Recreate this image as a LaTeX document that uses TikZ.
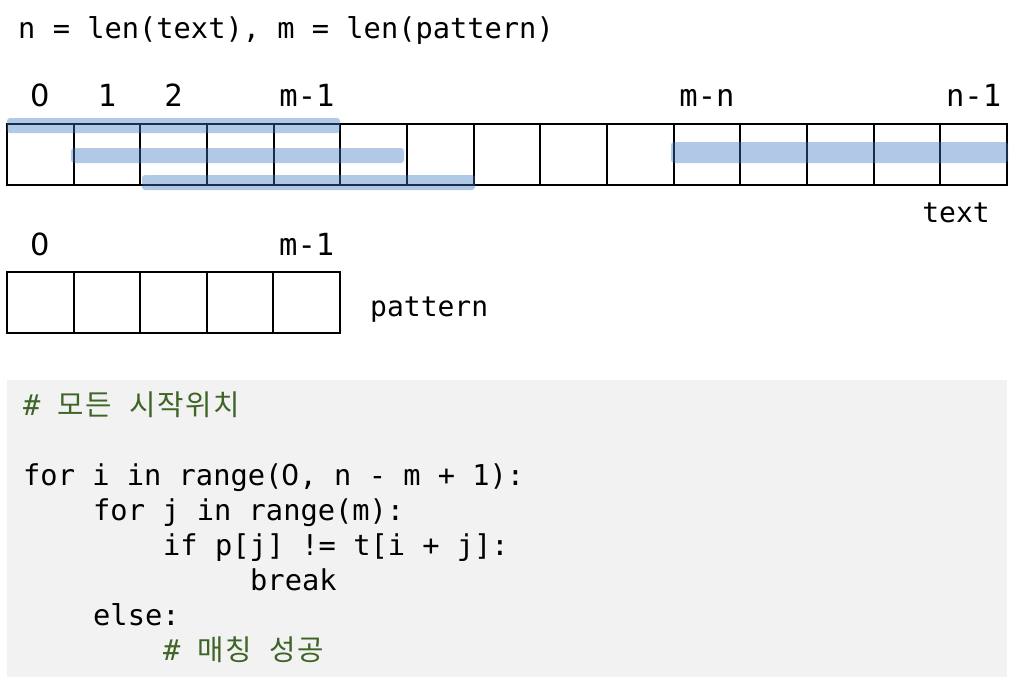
\documentclass[tikz,border=0pt]{standalone}
\usepackage{fontspec}
\setmonofont{DejaVu Sans Mono}
\newfontfamily\krfont[LetterSpace = 6]{Noto Sans CJK KR}
\newfontfamily\zerofont{DejaVu Sans}

\definecolor{codebg}{RGB}{242,242,242}
\definecolor{codegreen}{RGB}{62,100,38}
\definecolor{barblue}{RGB}{60,120,195}

% Plain zero (no dot) in a monospace slot
\newcommand{\zr}{\makebox[0.602em]{\zerofont 0}}

\begin{document}
\begin{tikzpicture}[x = 1pt, y = -1pt,
	mono/.style = {font = \ttfamily\fontsize{28.7}{35}\selectfont, inner sep = 0pt},
	idx/.style = {font = \ttfamily\fontsize{30.5}{36}\selectfont, inner sep = 0pt, anchor = base},
	cell/.style = {draw, line width = 2pt, minimum width = 66.67pt, minimum height = 61pt, inner sep = 0pt},
	bar/.style = {fill = barblue, fill opacity = 0.4, rounded corners = 3pt},
	codeline/.style = {mono, anchor = base west},
	comment/.style = {codeline, text = codegreen}]

	\useasboundingbox (0, 0) rectangle (1010, 686);

	% Definitions

	\def\W{66.667}		% Cell width
	
	\coordinate (toprow) at (0, 106);
	\coordinate (patrow) at (0, 255);

	% Title

	\node [mono, anchor = base west] (title) at (18, 38) {n = len(text), m = len(pattern)};

	% Text cells

	\foreach \i in {0,...,14}
		\node [cell] (t\i) at ({7 + \W*(\i + 0.5)}, 154.5) {};

	\foreach \i/\lab in {0/\zr, 1/1, 2/2, 4/m-1, 10/m-n, 14/n-1}
		\node [idx] (ti\i) at (t\i |- toprow) {\lab};

	\node [mono, anchor = base east, font = \ttfamily\fontsize{28}{34}\selectfont] (textlab) at (990, 222) {text};

	% Pattern positions

	\fill [bar] (7, 118) rectangle (340, 133);
	\fill [bar] (71, 148) rectangle (404, 163);
	\fill [bar] (142, 175) rectangle (475, 190);
	\fill [bar] (671, 142) rectangle (1008, 163);

	% Pattern cells

	\foreach \i in {0,...,4}
		\node [cell, minimum width = 66.6pt] (p\i) at ({7 + 66.6*(\i + 0.5)}, 302.5) {};

	\foreach \i/\lab in {0/\zr, 4/m-1}
		\node [idx] (pi\i) at (p\i |- patrow) {\lab};

	\node [mono, anchor = base west, font = \ttfamily\fontsize{28}{34}\selectfont] (patlab) at (370, 316) {pattern};

	% Code

	\fill [codebg] (7, 380) rectangle (1007, 677);

	\node [comment] (c1) at (23, 415) {\# {\krfont 모든} {\krfont 시작위치}};
	\node [codeline] (c2) at (23, 485) {for i in range(\zr, n - m + 1):};
	\node [codeline] (c3) at (93, 520) {for j in range(m):};
	\node [codeline] (c4) at (163, 555) {if p[j] != t[i + j]:};
	\node [codeline] (c5) at (250, 590) {break};
	\node [codeline] (c6) at (93, 625) {else:};
	\node [comment] (c7) at (163, 660) {\# {\krfont 매칭} {\krfont 성공}};

\end{tikzpicture}
\end{document}
